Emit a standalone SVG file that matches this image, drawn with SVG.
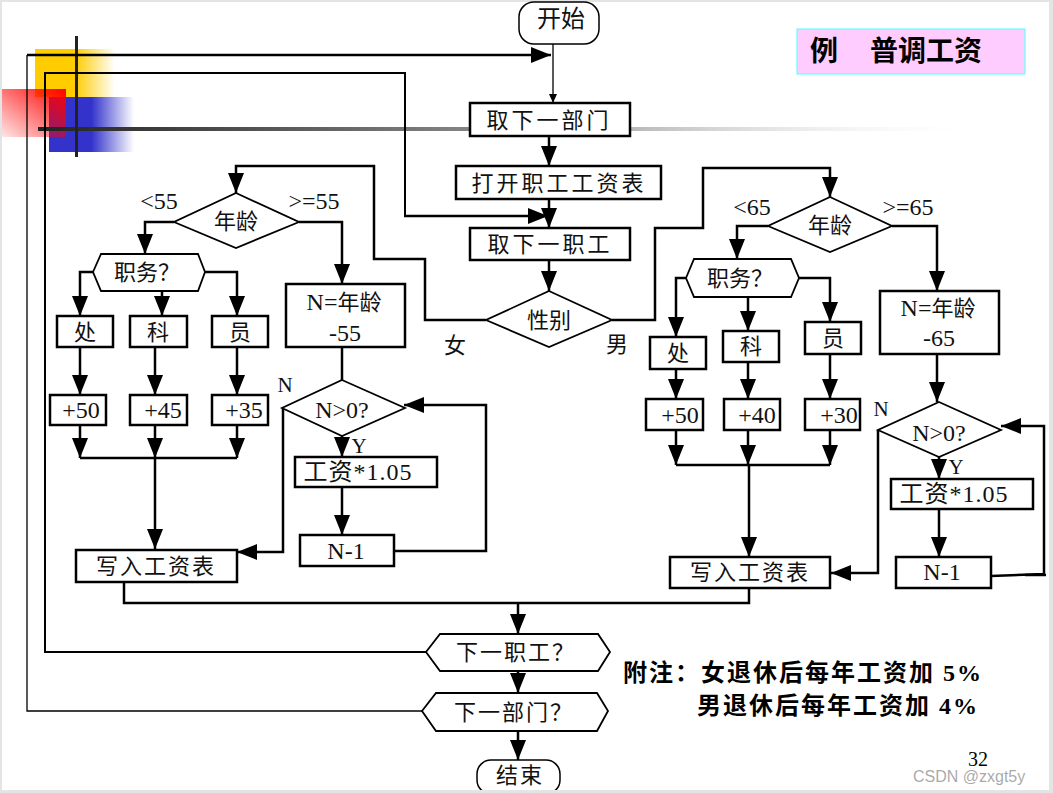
<svg xmlns="http://www.w3.org/2000/svg" width="1053" height="793" viewBox="0 0 1053 793">
<defs>
<style>
.t{font-family:"Liberation Serif","Noto Sans CJK SC",serif;font-size:22px;fill:#111;text-anchor:middle;dominant-baseline:central}
.l{font-size:24px}
.box{fill:#fff;stroke:#000;stroke-width:2.5}
.dia{fill:#fff;stroke:#000;stroke-width:1.8}
.c{fill:none;stroke:#000;stroke-width:2.5}
.a{marker-end:url(#ah)}
.thin{fill:none;stroke:#000;stroke-width:1.3}
.nt{font-family:"Liberation Serif","Noto Sans CJK SC",serif;font-size:24px;font-weight:bold;fill:#000;letter-spacing:2px}
</style>
<marker id="ah" markerUnits="userSpaceOnUse" markerWidth="20" markerHeight="16" refX="20" refY="8" orient="auto"><path d="M0,0 L20,8 L0,16 z" fill="#000"/></marker>
<marker id="sm" markerUnits="userSpaceOnUse" markerWidth="9" markerHeight="8" refX="9" refY="4" orient="auto"><path d="M0,0 L9,4 L0,8 z" fill="#000"/></marker>
<linearGradient id="gy" x1="0" y1="0" x2="1" y2="0"><stop offset="0.5" stop-color="#ffcc00"/><stop offset="1" stop-color="#ffcc00" stop-opacity="0"/></linearGradient>
<linearGradient id="gb" x1="0" y1="0" x2="1" y2="0"><stop offset="0.5" stop-color="#3333cc"/><stop offset="1" stop-color="#3333cc" stop-opacity="0"/></linearGradient>
<linearGradient id="gr" x1="1" y1="0" x2="0" y2="1"><stop offset="0" stop-color="#ff0000"/><stop offset="1" stop-color="#ff0000" stop-opacity="0.1"/></linearGradient>
<linearGradient id="gl" x1="0" y1="0" x2="1" y2="0"><stop offset="0" stop-color="#222"/><stop offset="0.55" stop-color="#999"/><stop offset="1" stop-color="#fff" stop-opacity="0"/></linearGradient>
</defs>
<rect x="0" y="0" width="1053" height="793" fill="#e4e4e4"/>
<rect x="2" y="2" width="1047" height="788" fill="#fff"/>
<g id="decor">
<rect x="35" y="49" width="80" height="48" fill="url(#gy)"/>
<rect x="49" y="97" width="85" height="55" fill="url(#gb)"/>
<rect x="2" y="89" width="64" height="48" fill="url(#gr)"/>
<rect x="38" y="127" width="950" height="4" fill="url(#gl)"/>
<rect x="75" y="36" width="3" height="121" fill="#222"/>
</g>
<g id="title"><rect x="797" y="29" width="228" height="45" fill="#ffccff" stroke="#66ffff" stroke-width="1.2"/>
<text x="810" y="51" style="font-family:'Liberation Serif','Noto Sans CJK SC',serif;font-size:28px;font-weight:bold;dominant-baseline:central">例</text>
<text x="870" y="51" style="font-family:'Liberation Serif','Noto Sans CJK SC',serif;font-size:28px;font-weight:bold;dominant-baseline:central">普调工资</text></g>
<g id="connectors">
<path class="thin a" d="M553,44 V103" style="marker-end:url(#sm)"/>
<path class="thin" d="M422,711 H27 V55"/>
<path class="c a" d="M27,55 H551"/>
<path class="c" style="stroke-width:2" d="M426,652 H45 V73 H405 V216"/>
<path class="c a" d="M404,216 H548"/>
<path class="c a" d="M549,136 V166"/>
<path class="c a" d="M549,199 V228"/>
<path class="c a" d="M549,260 V291"/>
<path class="c a" d="M486,320 H425 V259 H374 V166 H236 V193"/>
<path class="c a" d="M612,320 H655 V228 H703 V168 H830 V197"/>
<path class="c a" d="M174,222 H145 V254"/>
<path class="c a" d="M299,222 H342 V284"/>
<path class="c a" d="M93,272 H80 V316"/>
<path class="c a" d="M162,291 V316"/>
<path class="c a" d="M205,272 H237 V316"/>
<path class="c a" d="M80,347 V395"/>
<path class="c a" d="M155,347 V395"/>
<path class="c a" d="M237,347 V395"/>
<path class="c a" d="M80,425 V458"/>
<path class="c a" d="M155,425 V458"/>
<path class="c a" d="M237,425 V458"/>
<path class="c" d="M80,458 H237"/>
<path class="c a" d="M155,458 V549"/>
<path class="c" d="M342,347 V380"/>
<path class="c a" d="M342,436 V457"/>
<path class="c a" d="M342,487 V535"/>
<path class="c a" d="M394,551 H486 V405 H404"/>
<path class="c a" d="M283,408 V552 H237"/>
<path class="c" d="M124,582 V603 H749 V588"/>
<path class="c a" d="M518,603 V634"/>
<path class="c a" d="M518,671 V693"/>
<path class="c a" d="M518,731 V760"/>
<path class="c a" d="M768,226 H737 V259"/>
<path class="c a" d="M892,226 H937 V291"/>
<path class="c a" d="M686,278 H676 V337"/>
<path class="c a" d="M748,297 V331"/>
<path class="c a" d="M799,278 H830 V322"/>
<path class="c a" d="M676,369 V399"/>
<path class="c a" d="M748,362 V399"/>
<path class="c a" d="M830,354 V399"/>
<path class="c a" d="M676,430 V465"/>
<path class="c a" d="M748,430 V465"/>
<path class="c a" d="M830,430 V465"/>
<path class="c" d="M676,465 H830"/>
<path class="c a" d="M749,465 V557"/>
<path class="c a" d="M937,354 V402"/>
<path class="c a" d="M939,457 V479"/>
<path class="c a" d="M939,509 V557"/>
<path class="c a" d="M991,576 L1044,574 V426 H1001"/>
<path class="c" d="M1025,575 H1046"/>
<path class="c a" d="M878,430 V573 H831"/>
</g>
<g id="start"><rect x="519" y="2" width="80" height="42" rx="15" fill="#fff" stroke="#000" stroke-width="1.5"/><text class="t" x="561" y="19" style="font-size:24px">开始</text></g>
<g id="nextDept"><rect class="box" x="470" y="103" width="160" height="33"/><text class="t" x="549" y="120" style="letter-spacing:3px">取下一部门</text></g>
<g id="openTable"><rect class="box" x="456" y="166" width="205" height="33"/><text class="t" x="559" y="183" style="letter-spacing:3px">打开职工工资表</text></g>
<g id="nextEmp"><rect class="box" x="470" y="228" width="160" height="32"/><text class="t" x="550" y="244" style="letter-spacing:3px">取下一职工</text></g>
<g id="gender"><polygon class="dia" points="549,291 612,320 549,347 486,320"/><text class="t" x="549" y="320">性别</text></g>
<text class="t" x="455" y="345">女</text>
<text class="t" x="617" y="344">男</text>
<g id="ageL"><polygon class="dia" points="236,193 299,222 236,248 174,222"/><text class="t" x="236" y="221">年龄</text></g>
<text class="t l" x="159" y="201">&lt;55</text>
<text class="t l" x="314" y="201">&gt;=55</text>
<g id="postL"><polygon class="dia" points="93,272 101,254 198,254 205,272 198,291 101,291"/><text class="t" x="147" y="272">职务？</text></g>
<g id="chuL"><rect class="box" x="57" y="316" width="56" height="31"/><text class="t" x="85" y="332">处</text></g>
<g id="keL"><rect class="box" x="130" y="316" width="57" height="31"/><text class="t" x="158" y="332">科</text></g>
<g id="yuanL"><rect class="box" x="212" y="316" width="56" height="31"/><text class="t" x="240" y="332">员</text></g>
<g id="p50L"><rect class="box" x="50" y="395" width="56" height="30"/><text class="t l" x="81" y="410">+50</text></g>
<g id="p45L"><rect class="box" x="130" y="395" width="57" height="30"/><text class="t l" x="163" y="410">+45</text></g>
<g id="p35L"><rect class="box" x="212" y="395" width="56" height="30"/><text class="t l" x="244" y="410">+35</text></g>
<g id="nAgeL"><rect class="box" x="286" y="284" width="119" height="63"/><text class="t" x="344" y="302"><tspan style="font-size:24px">N=</tspan>年龄</text><text class="t l" x="345" y="333">-55</text></g>
<g id="condL"><polygon class="dia" points="342,380 405,408 342,436 282,408"/><text class="t l" x="342" y="410">N&gt;0?</text></g>
<text class="t" x="285" y="385" style="font-size:21px">N</text>
<text class="t" x="359" y="446" style="font-size:21px">Y</text>
<g id="mulL"><rect class="box" x="295" y="457" width="142" height="30"/><text class="t l" x="358" y="472" style="letter-spacing:1px">工资*1.05</text></g>
<g id="decL"><rect class="box" x="300" y="535" width="94" height="31"/><text class="t l" x="346" y="551">N-1</text></g>
<g id="writeL"><rect class="box" x="76" y="550" width="161" height="32"/><text class="t" x="156" y="566" style="letter-spacing:2px">写入工资表</text></g>
<g id="ageR"><polygon class="dia" points="830,197 892,226 830,252 768,226"/><text class="t" x="830" y="225">年龄</text></g>
<text class="t l" x="752" y="207">&lt;65</text>
<text class="t l" x="908" y="207">&gt;=65</text>
<g id="postR"><polygon class="dia" points="686,278 694,259 791,259 799,278 791,297 694,297"/><text class="t" x="740" y="278">职务？</text></g>
<g id="chuR"><rect class="box" x="650" y="337" width="56" height="32"/><text class="t" x="678" y="353">处</text></g>
<g id="keR"><rect class="box" x="723" y="331" width="56" height="31"/><text class="t" x="751" y="346">科</text></g>
<g id="yuanR"><rect class="box" x="805" y="322" width="56" height="32"/><text class="t" x="833" y="338">员</text></g>
<g id="p50R"><rect class="box" x="646" y="399" width="57" height="31"/><text class="t l" x="680" y="415">+50</text></g>
<g id="p40R"><rect class="box" x="724" y="399" width="56" height="31"/><text class="t l" x="757" y="415">+40</text></g>
<g id="p30R"><rect class="box" x="805" y="399" width="55" height="31"/><text class="t l" x="839" y="415">+30</text></g>
<g id="nAgeR"><rect class="box" x="880" y="291" width="119" height="63"/><text class="t" x="938" y="308"><tspan style="font-size:24px">N=</tspan>年龄</text><text class="t l" x="939" y="338">-65</text></g>
<g id="condR"><polygon class="dia" points="939,402 1001,430 939,457 878,430"/><text class="t l" x="939" y="433">N&gt;0?</text></g>
<text class="t" x="881" y="409" style="font-size:21px">N</text>
<text class="t" x="956" y="467" style="font-size:21px">Y</text>
<g id="mulR"><rect class="box" x="891" y="479" width="142" height="30"/><text class="t l" x="954" y="494" style="letter-spacing:1px">工资*1.05</text></g>
<g id="decR"><rect class="box" x="896" y="557" width="95" height="31"/><text class="t l" x="942" y="572">N-1</text></g>
<g id="writeR"><rect class="box" x="670" y="557" width="160" height="31"/><text class="t" x="750" y="572" style="letter-spacing:2px">写入工资表</text></g>
<g id="nextEmpQ"><polygon class="dia" points="426,652 440,634 598,634 610,652 598,671 440,671"/><text class="t" x="516" y="652" style="letter-spacing:2px">下一职工？</text></g>
<g id="nextDeptQ"><polygon class="dia" points="422,711 436,693 597,693 608,711 597,731 436,731"/><text class="t" x="514" y="712" style="letter-spacing:2px">下一部门？</text></g>
<g id="end"><rect x="477" y="760" width="83" height="34" rx="14" fill="#fff" stroke="#000" stroke-width="1.5"/><text class="t" x="520" y="775" style="letter-spacing:2px">结束</text></g>
<rect x="0" y="790" width="1053" height="3" fill="#e4e4e4"/>
<g id="note">
<text class="nt" x="623" y="681">附注：女退休后每年工资加 5%</text>
<text class="nt" x="697" y="714">男退休后每年工资加 4%</text>
</g>
<text x="968" y="766" style="font-family:'Liberation Serif',serif;font-size:20px;fill:#000">32</text>
<text x="913" y="782" style="font-family:'Liberation Sans',sans-serif;font-size:16px;fill:#999;fill-opacity:0.85">CSDN @zxgt5y</text>
</svg>
